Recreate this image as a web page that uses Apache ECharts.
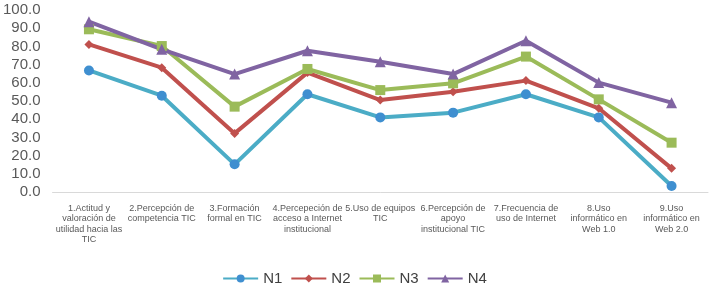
<!DOCTYPE html>
<html><head><meta charset="utf-8">
<script src="https://cdn.jsdelivr.net/npm/echarts@6/dist/echarts.min.js"></script>
<style>html,body{margin:0;padding:0;background:#fff}#c{width:709px;height:285px}</style>
</head><body><div id="c"></div>
<script>
const categories = [
  "1.Actitud y\nvaloración de\nutilidad hacia las\nTIC",
  "2.Percepción de\ncompetencia TIC",
  "3.Formación\nformal en TIC",
  "4.Percepeción de\nacceso a Internet\ninstitucional",
  "5.Uso de equipos\nTIC",
  "6.Percepción de\napoyo\ninstitucional TIC",
  "7.Frecuencia de\nuso de Internet",
  "8.Uso\ninformático en\nWeb 1.0",
  "9.Uso\ninformático en\nWeb 2.0"
];
const N1 = [66.8, 52.9, 15.2, 53.7, 41.0, 43.6, 53.7, 41.0, 3.3];
const N2 = [81.1, 68.3, 32.2, 65.6, 50.5, 55.1, 61.2, 46.0, 13.0];
const N3 = [89.4, 80.2, 46.9, 67.6, 56.0, 59.7, 74.4, 50.9, 27.1];
const N4 = [93.6, 78.4, 64.8, 77.6, 71.6, 64.8, 83.1, 60.1, 49.1];
const seriesNames = ["N1", "N2", "N3", "N4"];

const chart = echarts.init(document.getElementById('c'));
function mk(name, data, lineColor, markColor, symbol, size) {
  return {
    name, type: 'line', data, symbol, symbolSize: size,
    lineStyle: {color: lineColor, width: 4},
    itemStyle: {color: markColor, borderWidth: 0},
    emphasis: {disabled: true}
  };
}
chart.setOption({
  animation: false,
  grid: {left: 52, right: 1, top: 10, bottom: 93},
  legend: {
    data: seriesNames, top: 266, left: 'center',
    itemWidth: 35, itemHeight: 10, itemGap: 8,
    textStyle: {fontSize: 15, color: '#404040', fontFamily: 'Liberation Sans'}
  },
  xAxis: {
    type: 'category', data: categories, boundaryGap: true,
    axisLine: {lineStyle: {color: '#D9D9D9', width: 1}},
    axisTick: {show: false},
    axisLabel: {interval: 0, fontSize: 9, lineHeight: 10.5, color: '#595959', margin: 11,
      fontFamily: 'Liberation Sans'}
  },
  yAxis: {
    type: 'value', min: 0, max: 100, interval: 10,
    splitLine: {show: false},
    axisLine: {show: false}, axisTick: {show: false},
    axisLabel: {formatter: v => v.toFixed(1), fontSize: 15, color: '#595959', margin: 12,
      fontFamily: 'Liberation Sans'}
  },
  series: [
    mk('N1', N1, '#4BACC6', '#3F8FD0', 'circle', 10),
    mk('N2', N2, '#C0504D', '#C0504D', 'diamond', 9),
    mk('N3', N3, '#9BBB59', '#9BBB59', 'rect', 10),
    mk('N4', N4, '#8064A2', '#8064A2', 'triangle', 11)
  ]
});
</script></body></html>
